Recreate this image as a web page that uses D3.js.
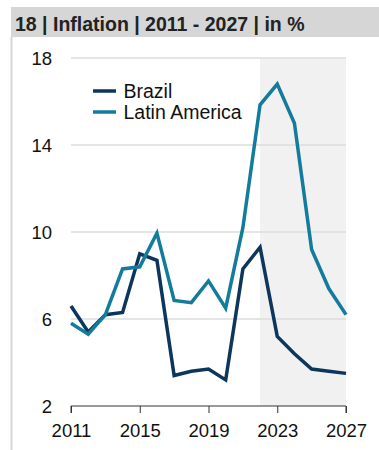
<!DOCTYPE html>
<html>
<head>
<meta charset="utf-8">
<script src="https://cdn.jsdelivr.net/npm/d3@7"></script>
<style>
  body { margin: 0; background: #fff; }
  svg { display: block; font-family: "Liberation Sans", Arial, sans-serif; }
</style>
</head>
<body>
<svg id="chart" width="379" height="450"></svg>
<script>
// data
var years = [2011, 2012, 2013, 2014, 2015, 2016, 2017, 2018, 2019, 2020, 2021, 2022, 2023, 2024, 2025, 2026, 2027];
var brazil = [6.6, 5.4, 6.2, 6.3, 9.0, 8.7, 3.4, 3.6, 3.7, 3.2, 8.3, 9.3, 5.2, 4.4, 3.7, 3.6, 3.5];
var latam = [5.8, 5.3, 6.2, 8.3, 8.4, 9.95, 6.85, 6.75, 7.75, 6.5, 10.2, 15.85, 16.8, 15.0, 9.2, 7.4, 6.2];
var yTicks = [2, 6, 10, 14, 18];
var xTicks = [2011, 2015, 2019, 2023, 2027];
var forecastStart = 2022;
var title = "18 | Inflation | 2011 - 2027 | in %";
var seriesNames = ["Brazil", "Latin America"];
var colors = ["#0c365c", "#137c9c"];

var svg = d3.select("#chart");

var margin = {left: 71, right: 33, top: 58, bottom: 44};
var width = 379, height = 450;

x = d3.scaleLinear().domain([2011, 2027]).range([margin.left, width - margin.right]);
y = d3.scaleLinear().domain([2, 18]).range([height - margin.bottom, margin.top]);

// title bar
svg.append("rect")
    .attr("x", 11).attr("y", 7)
    .attr("width", width - 11).attr("height", 30)
    .style("fill", "#d6d6d6");
svg.append("text")
    .attr("x", 15).attr("y", 31)
    .style("font-size", "19.5px")
    .style("font-weight", "bold")
    .style("fill", "#222")
    .text(title);

// left frame line
svg.append("line")
    .attr("x1", 11.5).attr("x2", 11.5)
    .attr("y1", 37).attr("y2", 450)
    .style("stroke", "#d6d6d6").style("stroke-width", 2);

// forecast shading
svg.append("rect")
    .attr("x", x(forecastStart)).attr("y", y(18))
    .attr("width", x(2027) - x(forecastStart))
    .attr("height", y(2) - y(18))
    .style("fill", "#f1f1f1");

// grid lines
svg.selectAll(".grid")
    .data(yTicks.filter(function(d){ return d > 2; }))
    .enter()
    .append("line")
    .attr("class", "grid")
    .attr("x1", x(2011)).attr("x2", x(2027))
    .attr("y1", function(d){ return y(d); })
    .attr("y2", function(d){ return y(d); })
    .style("stroke", "#dcdcdc").style("stroke-width", 1.5);

// y labels
svg.selectAll(".ylab")
    .data(yTicks)
    .enter()
    .append("text")
    .attr("class", "ylab")
    .attr("x", 52)
    .attr("y", function(d){ return y(d) + 7; })
    .attr("text-anchor", "end")
    .style("font-size", "18.5px")
    .style("fill", "#111")
    .text(function(d){ return d; });

// x axis
var xAxis = d3.axisBottom(x)
    .tickValues(xTicks)
    .tickFormat(d3.format("d"))
    .tickSize(7)
    .tickPadding(11);

var gx = svg.append("g")
    .attr("transform", "translate(0," + y(2) + ")")
    .call(xAxis);
gx.select(".domain").attr("d", "M" + x(2011) + ",7V0H" + x(2027) + "V7").style("stroke", "#333");
gx.selectAll(".tick line").style("stroke", "#333");
gx.selectAll(".tick text")
    .style("font-size", "18.5px")
    .style("font-family", "'Liberation Sans', Arial, sans-serif")
    .style("fill", "#111");

// lines
var line = d3.line()
    .x(function(d, i){ return x(years[i]); })
    .y(function(d){ return y(d); });

[brazil, latam].forEach(function(series, i) {
    svg.append("path")
        .datum(series)
        .attr("d", line)
        .style("fill", "none")
        .style("stroke", colors[i])
        .style("stroke-width", 3.5)
        .style("stroke-linejoin", "miter");
});

// legend
seriesNames.forEach(function(name, i) {
    var ly = 91 + i * 21;
    svg.append("line")
        .attr("x1", 93).attr("x2", 116)
        .attr("y1", ly).attr("y2", ly)
        .style("stroke", colors[i]).style("stroke-width", 3.5);
    svg.append("text")
        .attr("x", 123.5).attr("y", ly + 6.5)
        .style("font-size", "19.5px")
        .style("fill", "#111")
        .text(name);
});
</script>
</body>
</html>
